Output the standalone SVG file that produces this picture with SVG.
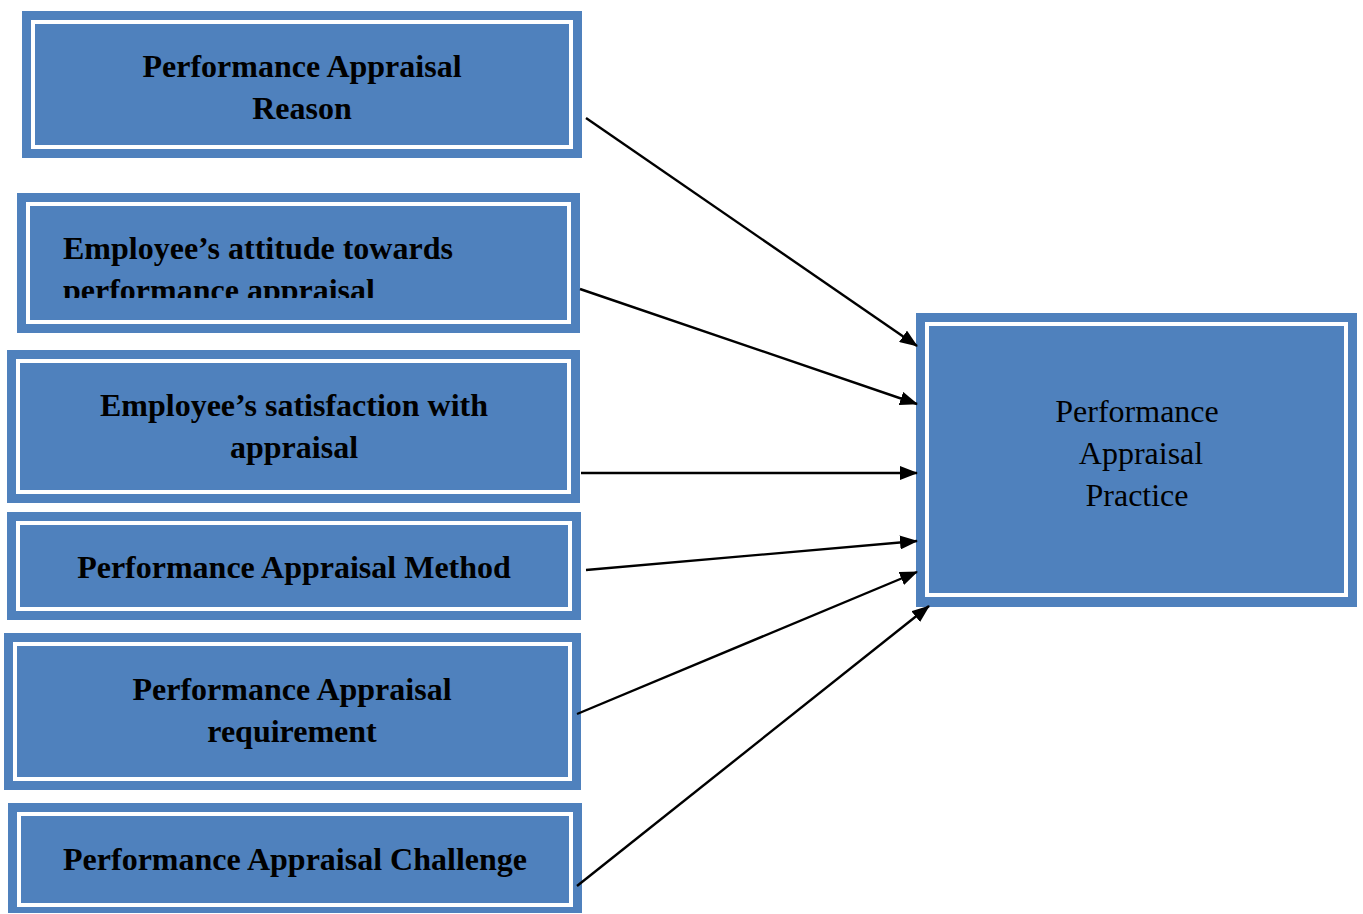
<svg xmlns="http://www.w3.org/2000/svg" width="1363" height="914" viewBox="0 0 1363 914">
<style>
.outer{fill:#4F81BD;}
.inner{fill:#4F81BD;stroke:#FFFFFF;stroke-width:4;}
.t{font-family:"Liberation Serif","Times New Roman",serif;font-size:32px;font-weight:bold;fill:#000;}
.tc{text-anchor:middle;}
.r{font-family:"Liberation Serif","Times New Roman",serif;font-size:32px;fill:#000;text-anchor:middle;}
.c{stroke:#000;stroke-width:2.4;fill:none;marker-end:url(#ah);}
</style>
<defs>
<marker id="ah" viewBox="0 0 18 14" refX="17" refY="7" markerWidth="18" markerHeight="14" markerUnits="userSpaceOnUse" orient="auto">
<path d="M0,0 L18,7 L0,14 Z" fill="#000"/>
</marker>
<clipPath id="clip2"><rect x="28" y="205" width="541" height="93"/></clipPath>
</defs>
<rect width="1363" height="914" fill="#fff"/>
<g id="n1">
<rect class="outer" x="22" y="11" width="560" height="147"/>
<rect class="inner" x="33" y="22" width="538" height="125"/>
<text class="t tc" x="302" y="77">Performance Appraisal</text>
<text class="t tc" x="302" y="119">Reason</text>
</g>
<g id="n2">
<rect class="outer" x="17" y="193" width="563" height="140"/>
<rect class="inner" x="28" y="204" width="541" height="118"/>
<g clip-path="url(#clip2)">
<text class="t" x="63" y="259">Employee’s attitude towards</text>
<text class="t" x="63" y="301">performance appraisal</text>
</g>
</g>
<g id="n3">
<rect class="outer" x="7" y="350" width="573" height="153"/>
<rect class="inner" x="18" y="361" width="551" height="131"/>
<text class="t tc" x="294" y="416">Employee’s satisfaction with</text>
<text class="t tc" x="294" y="458">appraisal</text>
</g>
<g id="n4">
<rect class="outer" x="7" y="512" width="574" height="108"/>
<rect class="inner" x="18" y="523" width="552" height="86"/>
<text class="t tc" x="294" y="578">Performance Appraisal Method</text>
</g>
<g id="n5">
<rect class="outer" x="4" y="633" width="577" height="157"/>
<rect class="inner" x="15" y="644" width="555" height="135"/>
<text class="t tc" x="292" y="700">Performance Appraisal</text>
<text class="t tc" x="292" y="742">requirement</text>
</g>
<g id="n6">
<rect class="outer" x="8" y="803" width="574" height="110"/>
<rect class="inner" x="19" y="814" width="552" height="91"/>
<text class="t tc" x="295" y="870">Performance Appraisal Challenge</text>
</g>
<g id="n7">
<rect class="outer" x="916" y="313" width="441" height="294"/>
<rect class="inner" x="927" y="324" width="419" height="271"/>
<text class="r" x="1137" y="422">Performance</text>
<text class="r" x="1141" y="464">Appraisal</text>
<text class="r" x="1137" y="506">Practice</text>
</g>
<g id="connectors">
<line class="c" x1="586" y1="118" x2="917" y2="346"/>
<line class="c" x1="580" y1="289" x2="917" y2="404"/>
<line class="c" x1="581" y1="473" x2="917" y2="473"/>
<line class="c" x1="586" y1="570" x2="917" y2="541"/>
<line class="c" x1="577" y1="714" x2="917" y2="572"/>
<line class="c" x1="577" y1="886" x2="929" y2="606"/>
</g>
</svg>
